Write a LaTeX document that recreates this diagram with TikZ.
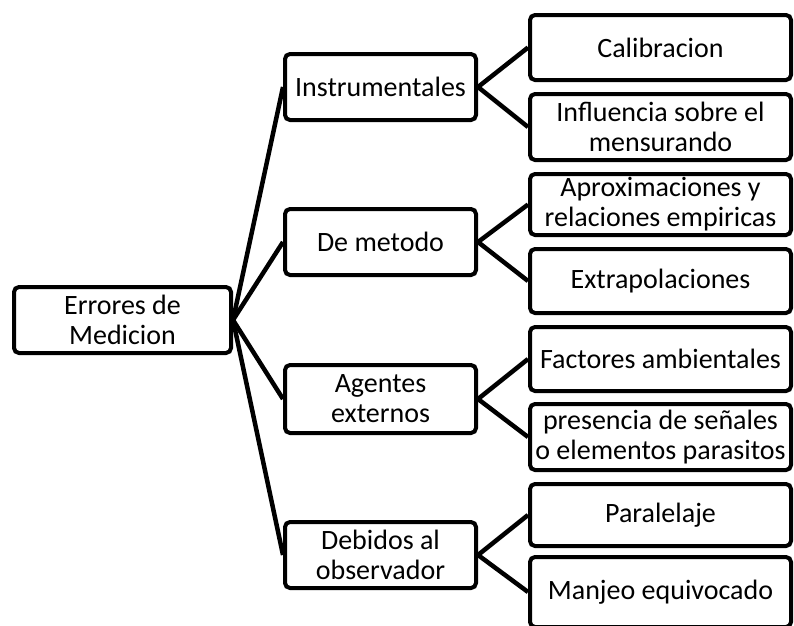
\documentclass[tikz,border=0pt]{standalone}
\usepackage{fontspec}
\setmainfont{Carlito}
\begin{document}
\begin{tikzpicture}[x=1pt,y=-1pt,
  box/.style={draw=black,line width=4pt,rounded corners=5pt,fill=white,align=center,
    inner sep=0pt,font=\fontsize{28}{30}\selectfont},
  root/.style={box,minimum width=217pt,minimum height=66pt},
  mid/.style={box,minimum width=191pt,minimum height=66pt},
  leaf/.style={box,minimum width=261pt},
  conn/.style={line width=4.5pt}]
\useasboundingbox (0,0) rectangle (794,625);
\node[root] (root) at (122.5,320) {Errores de\\Medicion};
\node[mid] (m1) at (380.5,87) {Instrumentales};
\node[mid] (m2) at (380.5,242) {De metodo};
\node[mid,minimum height=68pt] (m3) at (380.5,399) {Agentes\\externos};
\node[mid] (m4) at (380.5,555) {Debidos al\\observador};
\node[leaf,minimum height=65pt] (l1) at (660.5,47.5) {Calibracion};
\node[leaf,minimum height=66pt] (l2) at (660.5,127) {Influencia sobre el\\mensurando};
\node[leaf,minimum height=61pt] (l3) at (660.5,204.5) {Aproximaciones y\\relaciones empiricas};
\node[leaf,minimum height=64pt] (l4) at (660.5,281) {Extrapolaciones};
\node[leaf,minimum height=64pt] (l5) at (660.5,359) {Factores ambientales};
\node[leaf,minimum height=66pt] (l6) at (660.5,437) {presencia de señales\\o elementos parasitos};
\node[leaf,minimum height=62pt] (l7) at (660.5,515) {Paralelaje};
\node[leaf,minimum height=70pt] (l8) at (660.5,592) {Manjeo equivocado};
\begin{scope}[conn]
\foreach \m in {m1,m2,m3,m4} \draw (root.east) -- (\m.west);
\draw (m1.east) -- (l1.west); \draw (m1.east) -- (l2.west);
\draw (m2.east) -- (l3.west); \draw (m2.east) -- (l4.west);
\draw (m3.east) -- (l5.west); \draw (m3.east) -- (l6.west);
\draw (m4.east) -- (l7.west); \draw (m4.east) -- (l8.west);
\end{scope}
\end{tikzpicture}
\end{document}
